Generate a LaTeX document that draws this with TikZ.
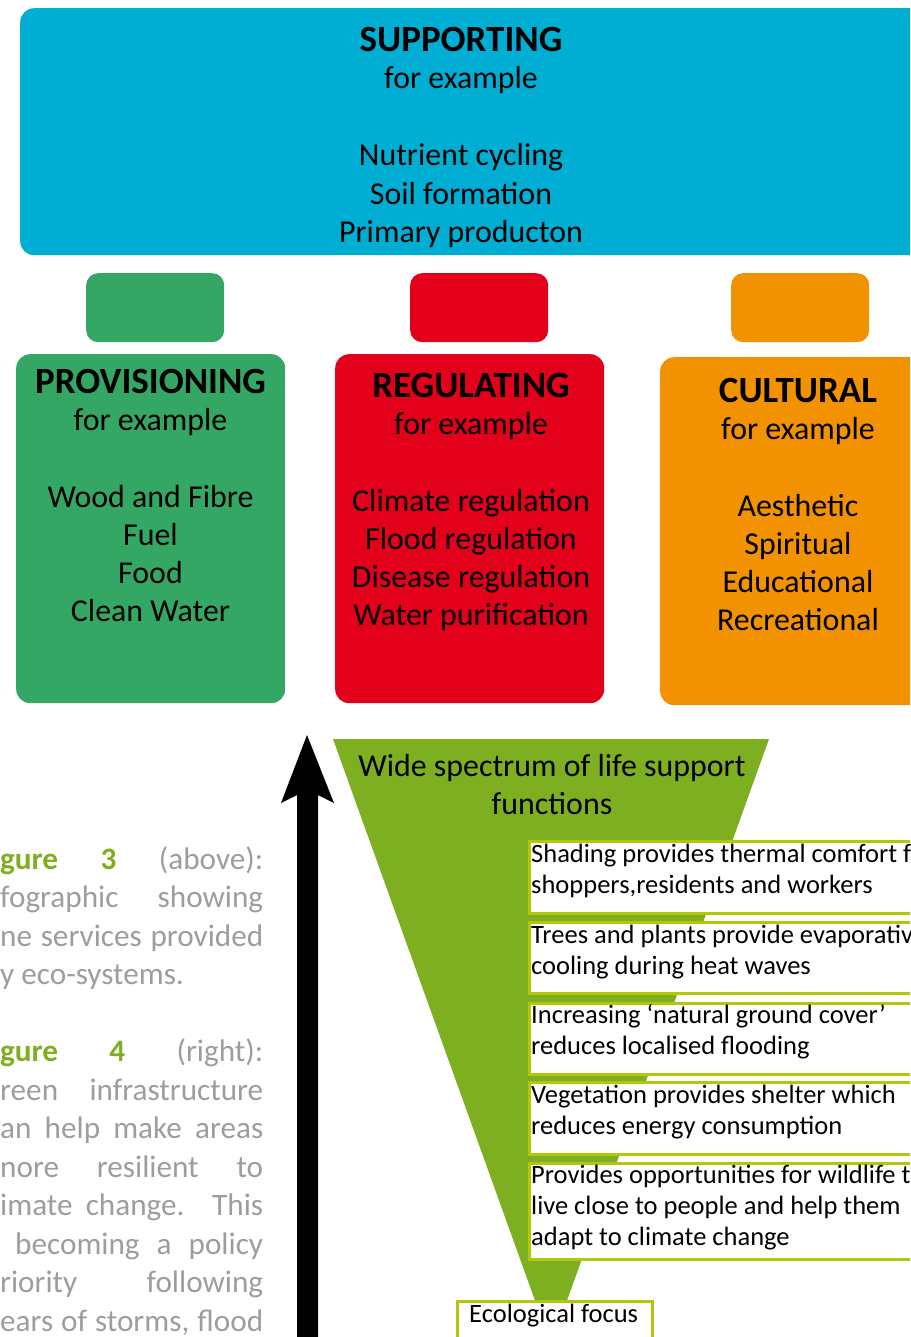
\documentclass[tikz,border=0pt]{standalone}
\usepackage{fontspec}
\setmainfont{Carlito}
\definecolor{supcyan}{HTML}{00AED4}
\definecolor{provgreen}{HTML}{34A764}
\definecolor{regred}{HTML}{E2001A}
\definecolor{culorange}{HTML}{F39200}
\definecolor{trigreen}{HTML}{7EAF20}
\definecolor{boxline}{HTML}{B2C70A}
\definecolor{capgray}{HTML}{9D9D9C}
\begin{document}
\begin{tikzpicture}[x=1pt,y=-1pt,
  panel/.style={rounded corners=14pt, inner sep=0pt, anchor=north west},
  tab/.style={rounded corners=12pt, inner sep=0pt, anchor=north west, minimum width=138pt, minimum height=69pt},
  headtext/.style={font=\fontsize{37}{38.5}\selectfont\bfseries, inner sep=0pt, anchor=base},
  bodytext/.style={font=\fontsize{31.9}{38.5}\selectfont, inner sep=0pt, anchor=base},
  notebox/.style={draw=boxline, line width=3pt, fill=white, inner sep=0pt, anchor=north west, minimum width=420pt},
  notetext/.style={font=\fontsize{26.5}{31.5}\selectfont, inner sep=0pt, anchor=base west},
  captext/.style={font=\fontsize{31.2}{38.5}\selectfont, text=capgray, inner sep=0pt, anchor=base west}
]
\useasboundingbox (0,0) rectangle (910,1337);
\clip (0,0) rectangle (910,1337);

% Supporting
\node[panel, fill=supcyan, minimum width=930pt, minimum height=247pt] (sup) at (20,8) {};
\node[headtext] (suph) at (461,52) {SUPPORTING};
\node[bodytext] (supfe) at (461,89) {for example};
\foreach \t [count=\i] in {Nutrient cycling, Soil formation, Primary producton}
  \node[bodytext] (sup-\i) at (461,{166+(\i-1)*38.3}) {\t};

% small tabs
\node[tab, fill=provgreen] (tabg) at (86,273) {};
\node[tab, fill=regred] (tabr) at (410,273) {};
\node[tab, fill=culorange] (tabo) at (731,273) {};

% Provisioning
\node[panel, fill=provgreen, minimum width=269pt, minimum height=349pt] (prov) at (16,354) {};
\node[headtext] (provh) at (150.5,393) {PROVISIONING};
\node[bodytext] (provfe) at (150.5,430) {for example};
\foreach \t [count=\i] in {Wood and Fibre, Fuel, Food, Clean Water}
  \node[bodytext] (prov-\i) at (150.5,{507+(\i-1)*38.3}) {\t};

% Regulating
\node[panel, fill=regred, minimum width=269pt, minimum height=349pt] (reg) at (335,354) {};
\node[headtext] (regh) at (471,397) {REGULATING};
\node[bodytext] (regfe) at (471,434) {for example};
\foreach \t [count=\i] in {Climate regulation, Flood regulation, Disease regulation, Water purification}
  \node[bodytext] (reg-\i) at (471,{511+(\i-1)*38.3}) {\t};

% Cultural
\node[panel, fill=culorange, minimum width=290pt, minimum height=348pt] (cul) at (660,357) {};
\node[headtext] (culh) at (798,402) {CULTURAL};
\node[bodytext] (culfe) at (798,439) {for example};
\foreach \t [count=\i] in {Aesthetic, Spiritual, Educational, Recreational}
  \node[bodytext] (cul-\i) at (798,{516+(\i-1)*38.3}) {\t};

% Arrow
\coordinate (tip) at (307,735);
\fill[black] (tip) -- (334,803) -- (318,795) -- (318,1345) -- (297,1345) -- (297,795) -- (281,803) -- cycle;

% Funnel
\coordinate (fa) at (333,739);
\coordinate (fb) at (769,739);
\coordinate (fc) at (551,1345);
\fill[trigreen] (fa) -- (fb) -- (fc) -- cycle;
\node[bodytext] (wide1) at (552,776) {Wide spectrum of life support};
\node[bodytext] (wide2) at (552,814) {functions};

% Note boxes
\node[notebox, minimum height=72pt] (n1) at (528,840) {};
\node[notetext] (t1a) at (531,862) {Shading provides thermal comfort f};
\node[notetext] (t1b) at (531,893) {shoppers,residents and workers};
\node[notebox, minimum height=71pt] (n2) at (528,921) {};
\node[notetext] (t2a) at (531,943) {Trees and plants provide evaporativ};
\node[notetext] (t2b) at (531,974) {cooling during heat waves};
\node[notebox, minimum height=71pt] (n3) at (528,1002) {};
\node[notetext] (t3a) at (531,1023) {Increasing ‘natural ground cover’};
\node[notetext] (t3b) at (531,1054) {reduces localised flooding};
\node[notebox, minimum height=72pt] (n4) at (528,1081) {};
\node[notetext] (t4a) at (531,1103) {Vegetation provides shelter which};
\node[notetext] (t4b) at (531,1134) {reduces energy consumption};
\node[notebox, minimum height=96pt] (n5) at (528,1162) {};
\node[notetext] (t5a) at (531,1183) {Provides opportunities for wildlife t};
\node[notetext] (t5b) at (531,1214) {live close to people and help them};
\node[notetext] (t5c) at (531,1245) {adapt to climate change};
\node[notebox, minimum width=195pt, minimum height=60pt] (eco) at (456,1300) {};
\node[notetext] (ecot) at (469,1322) {Ecological focus};

% Caption
\node[captext] (c1) at (0,869) {\makebox[263pt][s]{\textcolor{trigreen}{\bfseries gure 3} (above):}};
\node[captext] (c2) at (0,907.5) {\makebox[263pt][s]{fographic showing}};
\node[captext] (c3) at (0,946) {\makebox[263pt][s]{ne services provided}};
\node[captext] (c4) at (0,984.5) {y eco-systems.};
\node[captext] (c5) at (0,1061.5) {\makebox[263pt][s]{\textcolor{trigreen}{\bfseries gure 4} (right):}};
\node[captext] (c6) at (0,1100) {\makebox[263pt][s]{reen infrastructure}};
\node[captext] (c7) at (0,1138.5) {\makebox[263pt][s]{an help make areas}};
\node[captext] (c8) at (0,1177) {\makebox[263pt][s]{nore resilient to}};
\node[captext] (c9) at (0,1215.5) {\makebox[263pt][s]{imate change. This}};
\node[captext] (c10) at (15,1254) {\makebox[248pt][s]{becoming a policy}};
\node[captext] (c11) at (0,1292.5) {\makebox[263pt][s]{riority following}};
\node[captext] (c12) at (0,1331) {\makebox[263pt][s]{ears of storms, flood}};
\end{tikzpicture}
\end{document}
